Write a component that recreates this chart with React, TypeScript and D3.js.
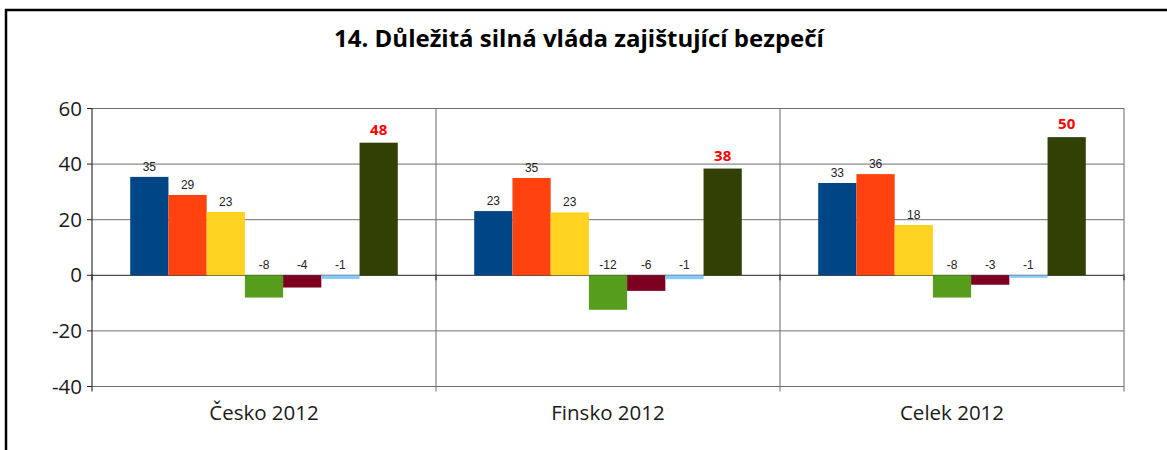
import React from "react";
import * as d3 from "d3";

const title = "14. Důležitá silná vláda zajištující bezpečí";
const groups = ["Česko 2012", "Finsko 2012", "Celek 2012"];
const seriesColors = ["#004586", "#ff420e", "#ffd320", "#579d1c", "#7e0021", "#83caff", "#314004"];
const cesko = [35.4, 28.9, 22.8, -8.0, -4.4, -1.3, 47.7];
const finsko = [23.1, 35.0, 22.6, -12.4, -5.6, -1.4, 38.4];
const celek = [33.2, 36.4, 18.1, -8.0, -3.4, -0.9, 49.7];
const yTicks = [-40, -20, 0, 20, 40, 60];

const data = [cesko, finsko, celek];

export default function App() {
  const W = 1167, H = 450;
  const left = 92, right = 1124, top = 108.5, bottom = 386.5;
  const y = d3.scaleLinear().domain([-40, 60]).range([bottom, top]);
  const x0 = d3.scaleBand().domain(groups).range([left, right]).padding(0);
  const x1 = d3.scaleBand<number>().domain(d3.range(7)).range([0, x0.bandwidth()]).paddingOuter(1).paddingInner(0);
  const font = "'Open Sans', sans-serif";
  const y0 = y(0);
  return (
    <svg width={W} height={H} style={{ position: "absolute", left: 0, top: 0, background: "#fff" }}>
      <rect x={0} y={0} width={W} height={H} fill="#fff" />
      <line x1={6} x2={6} y1={9} y2={H} stroke="#000" strokeWidth={2.5} />
      <line x1={5} x2={W} y1={10} y2={10} stroke="#000" strokeWidth={2.5} />
      <text x={579} y={47} textAnchor="middle" fontFamily={font} fontWeight="bold" fontSize={24} fill="#000">{title}</text>
      {/* horizontal gridlines */}
      {yTicks.map((t) => (
        <g key={t}>
          <line x1={left} x2={right} y1={y(t)} y2={y(t)} stroke={t === 0 ? "#222" : "#6e6e6e"} strokeWidth={1} />
          <line x1={left - 5} x2={left} y1={y(t)} y2={y(t)} stroke="#222" strokeWidth={1} />
          <text x={82} y={y(t) + 7} textAnchor="end" fontFamily={font} fontSize={20.5} fill="#1a1a1a">{t}</text>
        </g>
      ))}
      {/* vertical group lines */}
      {[left, ...groups.map((g) => (x0(g) as number) + x0.bandwidth())].map((vx, i) => (
        <g key={i}>
          <line x1={vx} x2={vx} y1={top} y2={bottom + 5} stroke={i === 0 ? "#333" : "#808080"} strokeWidth={1.2} />
          <line x1={vx} x2={vx} y1={y0 - 1} y2={y0 + 5} stroke="#333" strokeWidth={1.2} />
        </g>
      ))}
      {groups.map((g, gi) => {
        const gx = x0(g) as number;
        return (
          <g key={g}>
            {data[gi].map((v, si) => {
              const bx = gx + (x1(si) as number);
              const bw = x1.bandwidth();
              const yTop = v >= 0 ? y(v) : y0;
              const h = Math.abs(y(v) - y0);
              const last = si === 6;
              const labelY = v >= 0 ? y(v) - (last ? 8 : 6) : y0 - 6;
              return (
                <g key={si}>
                  <rect x={bx} y={yTop} width={bw} height={h} fill={seriesColors[si]} />
                  <text
                    x={bx + bw / 2}
                    y={labelY}
                    textAnchor="middle"
                    fontFamily={last ? font : "'Liberation Sans', Arial, sans-serif"}
                    fontWeight={last ? "bold" : "normal"}
                    fontSize={last ? 15 : 12}
                    fill={last ? "#ff0000" : "#222"}
                  >
                    {Math.round(v)}
                  </text>
                </g>
              );
            })}
            <text x={gx + x0.bandwidth() / 2} y={420} textAnchor="middle" fontFamily={font} fontSize={20.5} fill="#1a1a1a">{g}</text>
          </g>
        );
      })}
    </svg>
  );
}
